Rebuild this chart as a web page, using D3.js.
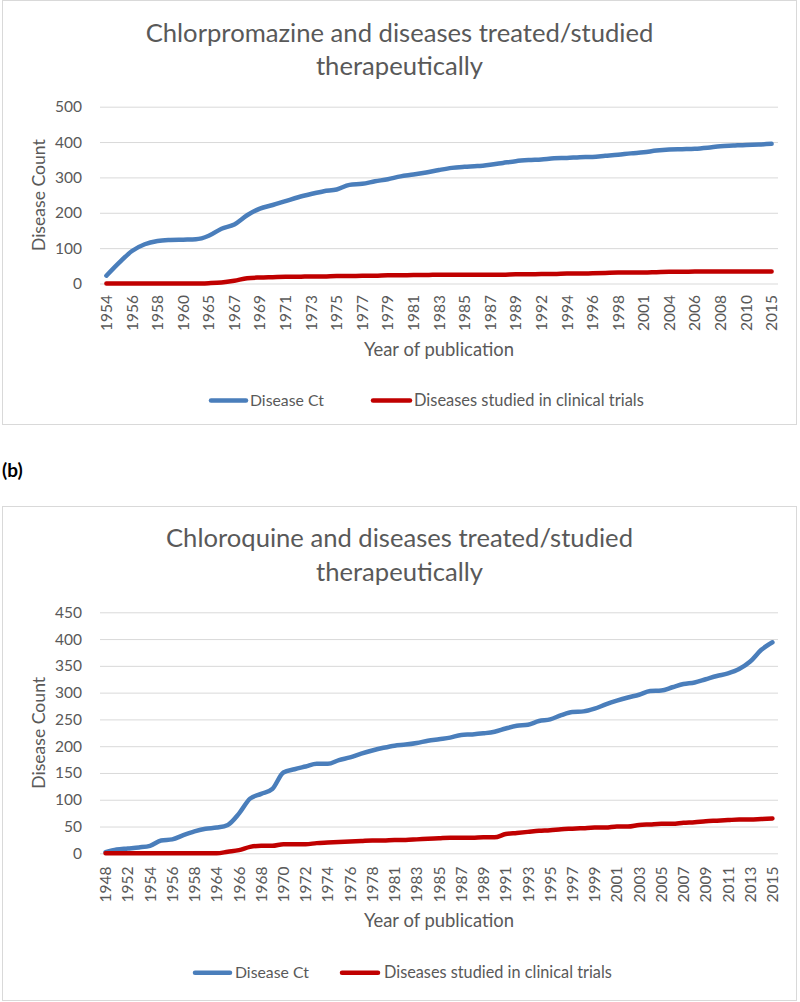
<!DOCTYPE html>
<html>
<head>
<meta charset="utf-8">
<script src="https://cdn.jsdelivr.net/npm/d3@7"></script>
<style>
  html, body { margin: 0; padding: 0; background: #ffffff; }
  svg { display: block; }
</style>
</head>
<body>
<script>
// ---------------- DATA ----------------
const topCategories = [
  "1954","1955","1956","1957","1958","1959","1960","1962","1965","1966",
  "1967","1968","1969","1970","1971","1972","1973","1974","1975","1976",
  "1977","1978","1979","1980","1981","1982","1983","1984","1985","1986",
  "1987","1988","1989","1990","1992","1993","1994","1995","1996","1997",
  "1998","2000","2001","2003","2004","2005","2006","2007","2008","2009",
  "2010","2012","2015"
];
const topDiseaseCt = [
  22, 59, 92, 111, 120, 123, 124, 125, 135, 155,
  167, 193, 212, 222, 233, 244, 253, 261, 266, 279,
  282, 289, 295, 303, 308, 314, 321, 327, 330, 332,
  336, 341, 346, 349, 351, 354, 355, 357, 358, 361,
  364, 368, 371, 376, 379, 380, 381, 384, 388, 390,
  392, 393, 395
];
const topClinical = [
  0, 0, 0, 0, 0, 0, 0, 0, 1, 3,
  8, 15, 17, 18, 19, 19, 20, 20, 21, 21,
  22, 22, 23, 23, 24, 24, 25, 25, 25, 25,
  25, 25, 26, 26, 27, 27, 28, 28, 29, 30,
  31, 31, 31, 32, 33, 33, 34, 34, 34, 34,
  34, 34, 34
];
const topYTicks = [0, 100, 200, 300, 400, 500];

const bottomCategories = [
  "1948","1950","1952","1953","1954","1955","1956","1957","1958","1960",
  "1964","1965","1966","1967","1968","1969","1970","1971","1972","1973",
  "1974","1975","1976","1977","1978","1980","1981","1982","1983","1984",
  "1985","1986","1987","1988","1989","1990","1991","1992","1993","1994",
  "1995","1996","1997","1998","1999","2000","2001","2002","2003","2004",
  "2005","2006","2007","2008","2009","2010","2011","2012","2013","2014",
  "2015"
];
const bottomDiseaseCt = [
  2, 7, 9, 11, 14, 24, 26, 34, 41, 46,
  48, 53, 74, 102, 111, 120, 151, 157, 162, 167,
  167, 174, 179, 186, 192, 197, 201, 203, 206, 210,
  213, 216, 221, 222, 224, 227, 233, 238, 240, 247,
  250, 258, 264, 265, 270, 278, 285, 291, 296, 303,
  304, 310, 316, 319, 325, 331, 336, 344, 358, 380,
  394
];
const bottomClinical = [
  0, 0, 0, 0, 0, 0, 0, 0, 0, 0,
  0, 3, 6, 12, 14, 14, 17, 17, 17, 19,
  20, 21, 22, 23, 24, 24, 25, 25, 26, 27,
  28, 29, 29, 29, 30, 30, 36, 38, 40, 42,
  43, 45, 46, 47, 48, 48, 50, 50, 53, 54,
  55, 55, 57, 58, 60, 61, 62, 63, 63, 64,
  65
];
const bottomYTicks = [0, 50, 100, 150, 200, 250, 300, 350, 400, 450];

const seriesNames = ["Disease Ct", "Diseases studied in clinical trials"];
const topTitle = ["Chlorpromazine and diseases treated/studied", "therapeutically"];
const bottomTitle = ["Chloroquine and diseases treated/studied", "therapeutically"];
const xAxisTitle = "Year of publication";
const yAxisTitle = "Disease Count";
const panelLabel = "(b)";

// ---------------- STYLE / LAYOUT ----------------
const FONT = "Lato, 'Open Sans', sans-serif";
const TEXT = "#595959";
const GRID = "#d9d9d9";
const COLORS = ["#4a7ebb", "#c00000"];
const LINE_W = 4.5;

const svg = d3.select("body").append("svg")
  .attr("width", 800).attr("height", 1002);

function fitWidth(sel, target) {
  const w = sel.node().getComputedTextLength();
  const fs = parseFloat(sel.attr("font-size"));
  if (w > 0) sel.attr("font-size", fs * target / w);
  return sel;
}

// Common tick font size, fitted so "500" is ~27px wide
const probe = svg.append("text").attr("font-family", FONT).attr("font-size", 16).text("500");
const tickFs = 16 * 27 / probe.node().getComputedTextLength();
probe.remove();

function drawPanel(cfg, cats, s1, s2, yTicks, titleLines) {
  const g = svg.append("g");

  // chart frame
  g.append("rect")
    .attr("x", cfg.box.x).attr("y", cfg.box.y)
    .attr("width", cfg.box.w).attr("height", cfg.box.h)
    .attr("fill", "#ffffff").attr("stroke", GRID).attr("stroke-width", 1);

  // title
  titleLines.forEach((t, i) => {
    const tt = g.append("text")
      .attr("x", 399.5).attr("y", cfg.titleBase[i])
      .attr("text-anchor", "middle")
      .attr("font-family", FONT).attr("font-weight", 400)
      .attr("font-size", 24).attr("fill", TEXT)
      .text(t);
    if (i === 0) {
      fitWidth(tt, cfg.titleWidth);
      cfg._titleFs = tt.attr("font-size");
    } else {
      tt.attr("font-size", cfg._titleFs);
    }
  });

  const p = cfg.plot;
  const x = d3.scaleBand().domain(cats).range([p.left, p.right]);
  const y = d3.scaleLinear().domain([0, yTicks[yTicks.length - 1]]).range([p.bottom, p.top]);

  // y axis with gridlines
  const yAx = g.append("g")
    .attr("transform", `translate(${p.left},0)`)
    .call(d3.axisLeft(y).tickValues(yTicks).tickSize(-(p.right - p.left)).tickPadding(18));
  yAx.select(".domain").remove();
  yAx.selectAll(".tick line").attr("stroke", GRID).attr("stroke-width", 1);
  yAx.selectAll(".tick text")
    .attr("font-family", FONT).attr("font-size", tickFs).attr("fill", TEXT);

  // x axis (labels every other category)
  const xLabels = cats.filter((c, i) => i % 2 === 0);
  const xAx = g.append("g")
    .attr("transform", `translate(0,${p.bottom})`)
    .call(d3.axisBottom(x).tickValues(xLabels).tickSize(0));
  xAx.select(".domain").remove();
  xAx.selectAll(".tick text")
    .attr("font-family", FONT).attr("font-size", tickFs).attr("fill", TEXT)
    .attr("transform", "rotate(-90)")
    .attr("x", -(cfg.xLabelTop - p.bottom)).attr("y", 0)
    .attr("dy", "0.36em").attr("text-anchor", "end");

  // axis titles
  const xt = g.append("text")
    .attr("x", (p.left + p.right) / 2).attr("y", cfg.xTitleBase)
    .attr("text-anchor", "middle")
    .attr("font-family", FONT).attr("font-size", 18).attr("fill", TEXT)
    .text(xAxisTitle);
  fitWidth(xt, 150);

  const yt = g.append("text")
    .attr("transform", `translate(${cfg.yTitleX},${(p.top + p.bottom) / 2}) rotate(-90)`)
    .attr("text-anchor", "middle")
    .attr("font-family", FONT).attr("font-size", xt.attr("font-size")).attr("fill", TEXT)
    .text(yAxisTitle);
  fitWidth(yt, 112);

  // lines
  const line = d3.line()
    .x((d, i) => x(cats[i]) + x.bandwidth() / 2)
    .y(d => y(d))
    .curve(d3.curveMonotoneX);
  [s1, s2].forEach((s, k) => {
    g.append("path")
      .datum(s)
      .attr("d", line)
      .attr("fill", "none")
      .attr("stroke", COLORS[k])
      .attr("stroke-width", LINE_W)
      .attr("stroke-linecap", "round")
      .attr("stroke-linejoin", "round");
  });

  // legend
  const L = cfg.legend;
  seriesNames.forEach((name, k) => {
    g.append("line")
      .attr("x1", L.line[k][0] + 2).attr("x2", L.line[k][1] - 2)
      .attr("y1", L.y).attr("y2", L.y)
      .attr("stroke", COLORS[k]).attr("stroke-width", LINE_W)
      .attr("stroke-linecap", "round");
    const lt = g.append("text")
      .attr("x", L.text[k]).attr("y", L.y).attr("dy", "0.35em")
      .attr("font-family", FONT).attr("font-size", 15).attr("fill", TEXT)
      .text(name);
    fitWidth(lt, L.textW[k]);
  });
}

drawPanel({
  box: { x: 2.5, y: 0.5, w: 794, h: 424 },
  titleBase: [42, 75], titleWidth: 508,
  plot: { left: 100, right: 778, top: 106.7, bottom: 283.5 },
  xLabelTop: 295, xTitleBase: 356, yTitleX: 45,
  legend: { y: 400.5, line: [[209, 248], [371, 412]], text: [250, 414], textW: [74, 230] }
}, topCategories, topDiseaseCt, topClinical, topYTicks, topTitle);

// panel label
svg.append("text")
  .attr("x", 2).attr("y", 477)
  .attr("font-family", FONT).attr("font-weight", 700)
  .attr("font-size", 19).attr("fill", "#000000")
  .text(panelLabel);

drawPanel({
  box: { x: 2.5, y: 506.5, w: 794, h: 494 },
  titleBase: [547, 581], titleWidth: 467,
  plot: { left: 100, right: 778, top: 612.3, bottom: 853.3 },
  xLabelTop: 866.5, xTitleBase: 927, yTitleX: 45,
  legend: { y: 972.7, line: [[193, 232], [340, 380]], text: [235, 384], textW: [74, 228] }
}, bottomCategories, bottomDiseaseCt, bottomClinical, bottomYTicks, bottomTitle);
</script>
</body>
</html>
